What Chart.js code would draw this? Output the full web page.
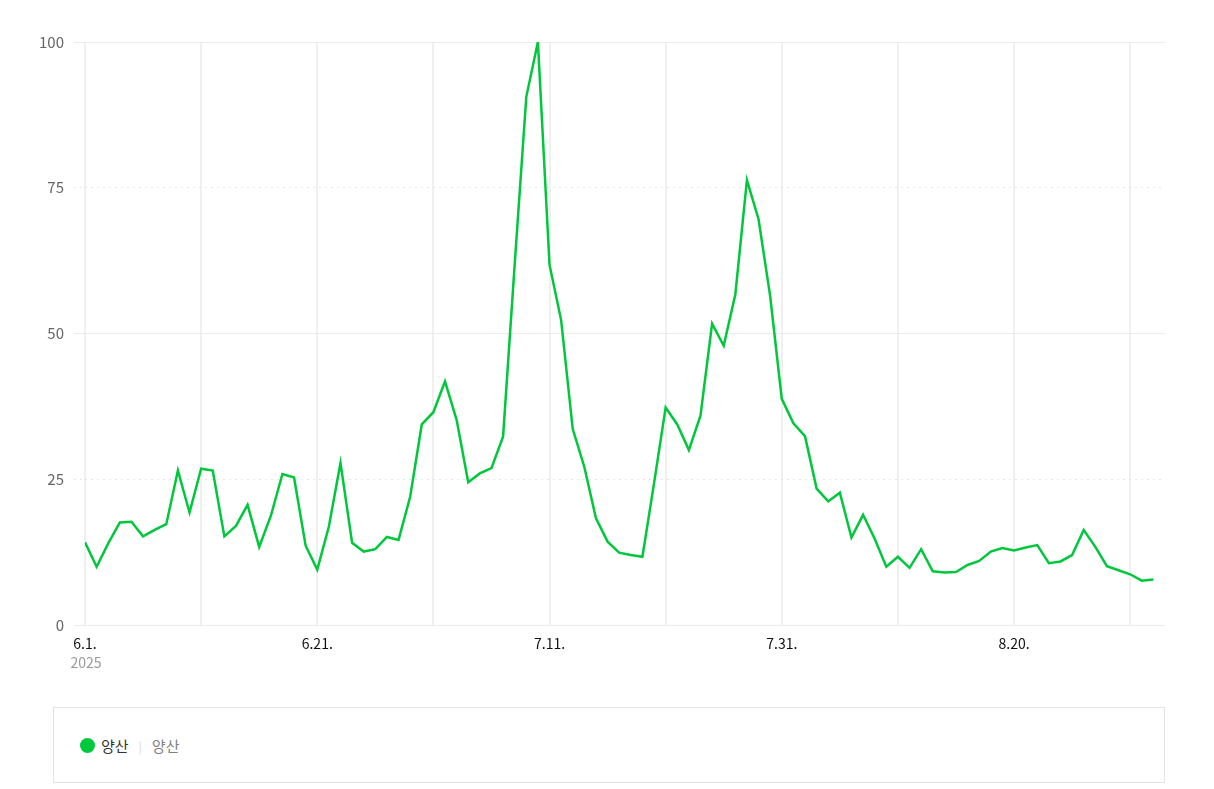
<!DOCTYPE html>
<html lang="ko">
<head>
<meta charset="utf-8">
<title>양산</title>
<script src="https://cdn.jsdelivr.net/npm/chart.js@4.4.1/dist/chart.umd.min.js"></script>
<style>
    body { margin: 0; background: #fff; font-family: "Noto Sans CJK KR", "Noto Sans", sans-serif; }
    #wrap { position: absolute; left: 0; top: 0; width: 1214px; height: 700px; }
    #legend {
        position: absolute; left: 53px; top: 707px; width: 1110px; height: 74px;
        border: 1px solid #e3e3e3; display: flex; align-items: center; font-size: 15px;
    }
    #legend .dot { width: 15px; height: 15px; border-radius: 50%; background: #00c73c; margin-left: 26px; margin-right: 6px; }
    #legend .name { color: #333; }
    #legend .sep { color: #d6d6d6; margin: 0 10px; font-size: 12px; }
    #legend .sub { color: #808080; }
</style>
</head>
<body>
<div id="wrap"><canvas id="trendChart"></canvas></div>
<div id="legend">
    <span class="dot"></span><span class="name">양산</span><span class="sep">|</span><span class="sub">양산</span>
</div>
<script>
    /* DATA */
    const seriesName = "양산";
    const yearLabel = "2025";
    const values = [
        14.2, 10.0, 14.0, 17.6, 17.7, 15.2, 16.3, 17.3, 26.5, 19.3,
        26.8, 26.5, 15.2, 17.0, 20.6, 13.4, 18.7, 25.9, 25.3, 13.6,
        9.5, 16.9, 27.8, 14.1, 12.6, 13.0, 15.1, 14.6, 22.0, 34.4,
        36.5, 41.8, 35.2, 24.5, 26.0, 26.9, 32.3, 61.8, 90.6, 100,
        61.8, 52.3, 33.6, 27.1, 18.3, 14.3, 12.4, 12.0, 11.7, 24.3,
        37.3, 34.4, 30.0, 35.9, 51.7, 47.9, 56.7, 76.3, 69.6, 56.4,
        38.8, 34.6, 32.4, 23.4, 21.2, 22.7, 15.0, 18.9, 14.8, 10.0,
        11.7, 9.8, 13.0, 9.2, 9.0, 9.1, 10.3, 11.0, 12.6, 13.2,
        12.8, 13.3, 13.7, 10.6, 10.9, 12.0, 16.3, 13.4, 10.1, 9.4,
        8.7, 7.6, 7.8
    ];
    const tickDays = [0, 20, 40, 60, 80];
    const tickLabels = ["6.1.", "6.21.", "7.11.", "7.31.", "8.20."];
    const yTicks = [0, 25, 50, 75, 100];
    const dottedTicks = [25, 75];

    const GREEN = "#00c73c";

    // draws the year under the first date label
    const yearPlugin = {
        id: "yearLabel",
        afterDraw(chart) {
            const x = chart.scales.x;
            const ctx = chart.ctx;
            ctx.save();
            ctx.font = "14px 'Noto Sans CJK KR', 'Noto Sans', sans-serif";
            ctx.fillStyle = "#9a9a9a";
            ctx.textAlign = "center";
            ctx.textBaseline = "middle";
            ctx.fillText(yearLabel, x.getPixelForValue(0) + 1, 663);
            ctx.restore();
        }
    };

    new Chart(document.getElementById("trendChart"), {
        type: "line",
        data: {
            datasets: [{
                label: seriesName,
                data: values.map((v, i) => ({ x: i, y: v })),
                borderColor: GREEN,
                borderWidth: 2.5,
                pointRadius: 0,
                tension: 0,
                fill: false
            }]
        },
        options: {
            responsive: true,
            maintainAspectRatio: false,
            animation: false,
            layout: { padding: { top: 42, right: 49, bottom: 0, left: 0 } },
            plugins: { legend: { display: false }, tooltip: { enabled: false } },
            scales: {
                x: {
                    type: "linear",
                    min: 0,
                    max: 93,
                    afterBuildTicks: s => { s.ticks = [0, 10, 20, 30, 40, 50, 60, 70, 80, 90].map(v => ({ value: v })); },
                    afterFit: s => { s.height = 75; },
                    ticks: {
                        autoSkip: false,
                        maxRotation: 0,
                        padding: 10,
                        color: "#111",
                        font: { size: 14, family: "'Noto Sans CJK KR', 'Noto Sans', sans-serif" },
                        callback: v => {
                            const k = tickDays.indexOf(v);
                            return k >= 0 ? tickLabels[k] : "";
                        }
                    },
                    grid: { color: "#f0f0f0", lineWidth: 2, drawTicks: false },
                    border: { display: false }
                },
                y: {
                    min: 0,
                    max: 100,
                    afterBuildTicks: s => { s.ticks = yTicks.map(v => ({ value: v })); },
                    afterFit: s => { s.width = 85; },
                    ticks: {
                        padding: 10,
                        color: "#666",
                        font: { size: 15, family: "'Noto Sans CJK KR', 'Noto Sans', sans-serif" }
                    },
                    grid: {
                        color: c => dottedTicks.includes(c.tick && c.tick.value) ? "rgba(0,0,0,0)" : "#ececec",
                        tickColor: c => dottedTicks.includes(c.tick && c.tick.value) ? "#e4e4e4" : "#ececec",
                        tickBorderDash: c => dottedTicks.includes(c.tick && c.tick.value) ? [2, 4] : [],
                        tickLength: 11,
                        lineWidth: 1
                    },
                    border: { display: false }
                },
                yDots: {
                    position: "left",
                    min: 0,
                    max: 100,
                    afterBuildTicks: s => { s.ticks = dottedTicks.map(v => ({ value: v })); },
                    afterFit: s => { s.width = 0; },
                    ticks: { display: false },
                    grid: { color: "#e4e4e4", lineWidth: 1, drawTicks: false },
                    border: { display: false, dash: [2, 4] }
                }
            }
        },
        plugins: [yearPlugin]
    });
</script>
</body>
</html>
